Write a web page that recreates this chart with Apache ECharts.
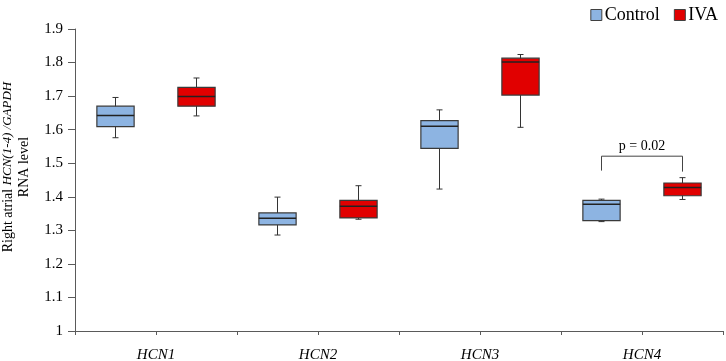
<!DOCTYPE html>
<html>
<head>
    <meta charset="UTF-8">
    <title>HCN RNA level</title>
    <script src="https://cdn.jsdelivr.net/npm/echarts@6/dist/echarts.min.js"></script>
    <style>
        html, body { margin: 0; padding: 0; background: #fff; }
        #chart { width: 726px; height: 361px; }
    </style>
</head>
<body>
    <div id="chart"></div>

    <script>
        // genes on the x axis
        var categories = ['HCN1', 'HCN2', 'HCN3', 'HCN4'];

        // box stats per gene: [whisker low, Q1, median, Q3, whisker high]
        var controlStats = [
            [1.576, 1.609, 1.642, 1.670, 1.696],
            [1.286, 1.316, 1.336, 1.352, 1.399],
            [1.423, 1.544, 1.610, 1.627, 1.659],
            [1.326, 1.329, 1.378, 1.389, 1.393]
        ];
        var ivaStats = [
            [1.641, 1.670, 1.699, 1.726, 1.754],
            [1.333, 1.337, 1.372, 1.389, 1.433],
            [1.607, 1.703, 1.802, 1.813, 1.824],
            [1.392, 1.403, 1.428, 1.441, 1.457]
        ];

        // y axis ticks
        var yMin = 1, yMax = 1.9, yStep = 0.1;

        // significance bracket: gene index, left leg end, top, right leg end
        var bracketGene = 3;
        var bracketLevels = [1.478, 1.521, 1.475];
        var bracketText = 'p = 0.02';

        var serif = '"Liberation Serif", "Times New Roman", serif';
        var axisColor = '#5a5a5a';

        // two box slots per gene (Control, IVA)
        var slots = [];
        categories.forEach(function (c) { slots.push(c + ' Control', c + ' IVA'); });

        function boxData(stats, offset) {
            return stats.map(function (s, i) { return [2 * i + offset].concat(s); });
        }

        function renderBox(params, api) {
            var x = api.value(0);
            var low = api.coord([x, api.value(1)]);
            var q1 = api.coord([x, api.value(2)]);
            var med = api.coord([x, api.value(3)]);
            var q3 = api.coord([x, api.value(4)]);
            var high = api.coord([x, api.value(5)]);
            var cx = low[0];
            var half = api.size([1, 0])[0] * 0.23;
            var cap = 3;
            var line = { stroke: '#333', lineWidth: 1 };
            return {
                type: 'group',
                children: [
                    { type: 'line', shape: { x1: cx, y1: high[1], x2: cx, y2: low[1] }, style: line },
                    { type: 'line', shape: { x1: cx - cap, y1: high[1], x2: cx + cap, y2: high[1] }, style: line },
                    { type: 'line', shape: { x1: cx - cap, y1: low[1], x2: cx + cap, y2: low[1] }, style: line },
                    {
                        type: 'rect',
                        shape: { x: cx - half, y: q3[1], width: half * 2, height: q1[1] - q3[1] },
                        style: { fill: api.visual('color'), stroke: '#3a3a3a', lineWidth: 1.2 }
                    },
                    { type: 'line', shape: { x1: cx - half, y1: med[1], x2: cx + half, y2: med[1] }, style: { stroke: '#222', lineWidth: 1.5 } }
                ]
            };
        }

        function renderBracket(params, api) {
            var a = api.coord([api.value(0), api.value(2)]);
            var t1 = api.coord([api.value(0), api.value(3)]);
            var t2 = api.coord([api.value(1), api.value(3)]);
            var b = api.coord([api.value(1), api.value(4)]);
            return {
                type: 'group',
                children: [
                    {
                        type: 'polyline',
                        shape: { points: [a, t1, t2, b] },
                        style: { fill: null, stroke: '#444', lineWidth: 1 }
                    },
                    {
                        type: 'text',
                        x: (t1[0] + t2[0]) / 2,
                        y: t1[1] - 3,
                        style: {
                            text: bracketText, fill: '#000', font: '14px ' + serif,
                            align: 'center', verticalAlign: 'bottom'
                        }
                    }
                ]
            };
        }

        var chart = echarts.init(document.getElementById('chart'));

        var option = {
            animation: false,
            backgroundColor: '#fff',
            grid: { left: 75, right: 3, top: 29, bottom: 30, outerBoundsMode: 'none', containLabel: false },
            legend: {
                data: ['Control', 'IVA'],
                right: 3,
                top: 1,
                icon: 'rect',
                itemWidth: 11,
                itemHeight: 11,
                itemGap: 14,
                itemStyle: { borderColor: '#404040', borderWidth: 1 },
                textStyle: { fontFamily: serif, fontSize: 18, color: '#000', padding: [0, 0, 0, -2] }
            },
            xAxis: [
                {
                    type: 'category',
                    data: slots,
                    boundaryGap: true,
                    axisLine: { lineStyle: { color: axisColor, width: 1 } },
                    axisTick: { show: true, length: 4, interval: 0, lineStyle: { color: axisColor } },
                    axisLabel: { show: false },
                    splitLine: { show: false }
                },
                {
                    type: 'category',
                    data: categories,
                    position: 'bottom',
                    axisLine: { show: false },
                    axisTick: { show: false },
                    axisLabel: {
                        interval: 0, margin: 17,
                        fontFamily: serif, fontStyle: 'italic', fontSize: 15, color: '#000'
                    },
                    splitLine: { show: false }
                }
            ],
            yAxis: {
                type: 'value',
                min: yMin,
                max: yMax,
                interval: yStep,
                name: '{n|Right atrial }{i|HCN(1-4) /GAPDH}\n{n|RNA level}',
                nameLocation: 'middle',
                nameRotate: 90,
                nameGap: 43,
                nameTextStyle: {
                    align: 'center',
                    padding: [0, 0, 0, 26],
                    lineHeight: 16,
                    rich: {
                        n: { fontFamily: serif, fontSize: 14, color: '#000', lineHeight: 16 },
                        i: { fontFamily: serif, fontSize: 13, fontStyle: 'italic', color: '#000', lineHeight: 16 }
                    }
                },
                axisLine: { show: true, lineStyle: { color: axisColor, width: 1 } },
                axisTick: { show: true, length: 7, lineStyle: { color: axisColor } },
                axisLabel: {
                    margin: 12,
                    fontFamily: serif, fontSize: 15, color: '#000',
                    formatter: function (v) {
                        return Math.abs(v - 1) < 1e-9 ? '1' : v.toFixed(1);
                    }
                },
                splitLine: { show: false }
            },
            series: [
                {
                    name: 'Control',
                    type: 'custom',
                    xAxisIndex: 0,
                    itemStyle: { color: '#8db4e2' },
                    renderItem: renderBox,
                    encode: { x: 0, y: [1, 2, 3, 4, 5] },
                    data: boxData(controlStats, 0)
                },
                {
                    name: 'IVA',
                    type: 'custom',
                    xAxisIndex: 0,
                    itemStyle: { color: '#e10000' },
                    renderItem: renderBox,
                    encode: { x: 0, y: [1, 2, 3, 4, 5] },
                    data: boxData(ivaStats, 1)
                },
                {
                    name: 'bracket',
                    type: 'custom',
                    xAxisIndex: 0,
                    renderItem: renderBracket,
                    encode: { x: [0, 1], y: [2, 3, 4] },
                    data: [[2 * bracketGene, 2 * bracketGene + 1].concat(bracketLevels)]
                }
            ]
        };

        chart.setOption(option);
    </script>
</body>
</html>
